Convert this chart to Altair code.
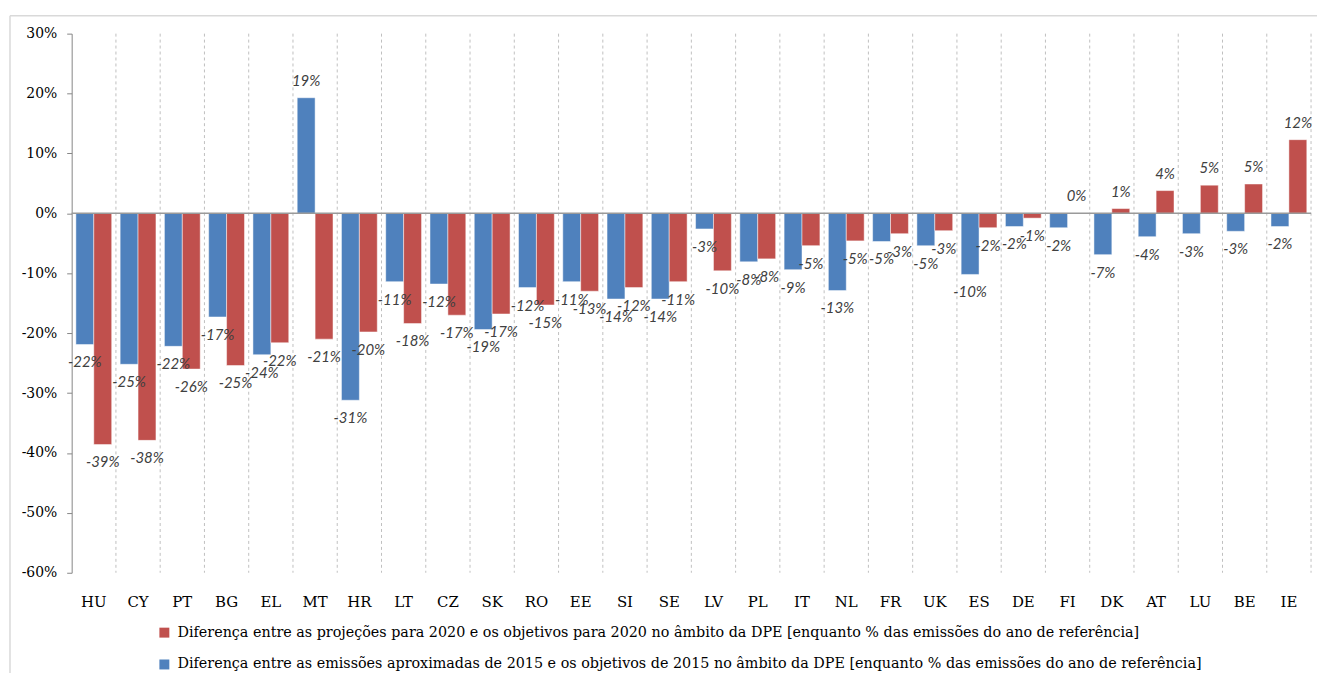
import altair as alt
import pandas as pd
import numpy as np

cats = ["HU", "CY", "PT", "BG", "EL", "MT", "HR", "LT", "CZ", "SK", "RO", "EE", "SI", "SE",
        "LV", "PL", "IT", "NL", "FR", "UK", "ES", "DE", "FI", "DK", "AT", "LU", "BE", "IE"]

s2015 = ("Diferença entre as emissões aproximadas de 2015 e os objetivos de 2015 no âmbito da DPE "
         "[enquanto % das emissões do ano de referência]")
s2020 = ("Diferença entre as projeções para 2020 e os objetivos para 2020 no âmbito da DPE "
         "[enquanto % das emissões do ano de referência]")

v2015 = [-21.9, -25.2, -22.2, -17.3, -23.6, 19.3, -31.2, -11.4, -11.8, -19.4, -12.4, -11.4, -14.3, -14.3,
         -2.6, -8.1, -9.4, -12.9, -4.7, -5.4, -10.2, -2.2, -2.4, -6.9, -3.9, -3.4, -3.0, -2.2]
v2020 = [-38.6, -37.9, -26.0, -25.4, -21.6, -21.0, -19.8, -18.4, -17.0, -16.8, -15.3, -13.0, -12.4, -11.4,
         -9.6, -7.6, -5.4, -4.6, -3.4, -2.9, -2.4, -0.8, 0.0, 0.8, 3.8, 4.7, 4.9, 12.3]

series_names = [s2015, s2020]
colors = ["#4F81BD", "#C0504D"]

rows = []
for i, c in enumerate(cats):
    for s, vals in ((s2015, v2015), (s2020, v2020)):
        v = vals[i]
        rows.append({"pais": c, "serie": s, "valor": v, "rotulo": f"{int(np.floor(v + 0.5))}%"})
df = pd.DataFrame(rows)

W, H = 1246, 542

x_axis = alt.Axis(title=None, domain=False, ticks=False, labelAngle=0, labelFont="DejaVu Serif",
                  labelFontSize=15, labelColor="#000000", labelPadding=22, labelBaseline="top", grid=False)
x_scale = alt.Scale(paddingInner=0, paddingOuter=0)
x_enc = alt.X("pais:N", sort=cats, scale=x_scale, axis=x_axis)
xoff = alt.XOffset("serie:N", sort=series_names,
                   scale=alt.Scale(domain=series_names, paddingInner=0, paddingOuter=0.236))
y_enc = alt.Y("valor:Q", scale=alt.Scale(domain=[-60, 30], nice=False, zero=False),
              axis=alt.Axis(title=None, values=list(range(-60, 31, 10)),
                            labelExpr="(datum.value<0?'-':'') + format(abs(datum.value),'d') + '%'",
                            grid=False, domainColor="#868686", tickColor="#868686", tickSize=5,
                            labelFont="DejaVu Serif", labelFontSize=14, labelColor="#000000",
                            labelPadding=10))
color = alt.Color("serie:N", scale=alt.Scale(domain=series_names, range=colors),
                  legend=alt.Legend(title=None, values=[s2020, s2015], orient="none",
                                    legendX=86, legendY=595, direction="vertical",
                                    symbolType="square", symbolSize=100, symbolStrokeWidth=0,
                                    labelFont="DejaVu Serif", labelFontSize=14.4, labelColor="#000000",
                                    labelLimit=1200, rowPadding=17, labelOffset=6))

grid = alt.Chart(pd.DataFrame({"pais": cats})).mark_rule(
    color="#bfbfbf", strokeDash=[3, 3], strokeWidth=1
).encode(
    x=alt.X("pais:N", sort=cats, scale=x_scale, axis=x_axis, bandPosition=1),
    y=alt.value(0), y2=alt.value(H)
)

bars = alt.Chart(df).mark_bar(stroke="#ffffff", strokeWidth=0.8, strokeOpacity=0.6).encode(
    x=x_enc, xOffset=xoff, y=y_enc, color=color
)

zero = alt.Chart(pd.DataFrame({"z": [0]})).mark_rule(color="#9a9a9a", strokeWidth=1.5).encode(
    y=alt.datum(0)
)

base = alt.Chart(df)
lab_neg = base.transform_filter("datum.valor < 0").mark_text(
    dy=18, font="Lato", fontStyle="italic", fontSize=15, color="#404040", baseline="middle"
).encode(x=x_enc, xOffset=xoff, y=y_enc, text="rotulo:N")
lab_pos = base.transform_filter("datum.valor >= 0").mark_text(
    dy=-17, font="Lato", fontStyle="italic", fontSize=15, color="#404040", baseline="middle"
).encode(x=x_enc, xOffset=xoff, y=y_enc, text="rotulo:N")

frame = pd.DataFrame({"a": [0]})
border_top = alt.Chart(frame).mark_rule(color="#d9d9d9", strokeWidth=1.5).encode(
    x=alt.value(-62), x2=alt.value(W + 10), y=alt.value(-18)
)
border_left = alt.Chart(frame).mark_rule(color="#d9d9d9", strokeWidth=1.5).encode(
    x=alt.value(-62), y=alt.value(-18), y2=alt.value(H + 120)
)

chart = alt.layer(grid, bars, zero, lab_neg, lab_pos, border_top, border_left).properties(
    width=W, height=H,
    padding={"left": 64, "top": 24, "right": 6, "bottom": 99},
    autosize=alt.AutoSizeParams(type="none"),
    background="#ffffff"
).configure_view(stroke=None)

chart.save("out.html", embed_options={"renderer": "svg", "actions": False})
